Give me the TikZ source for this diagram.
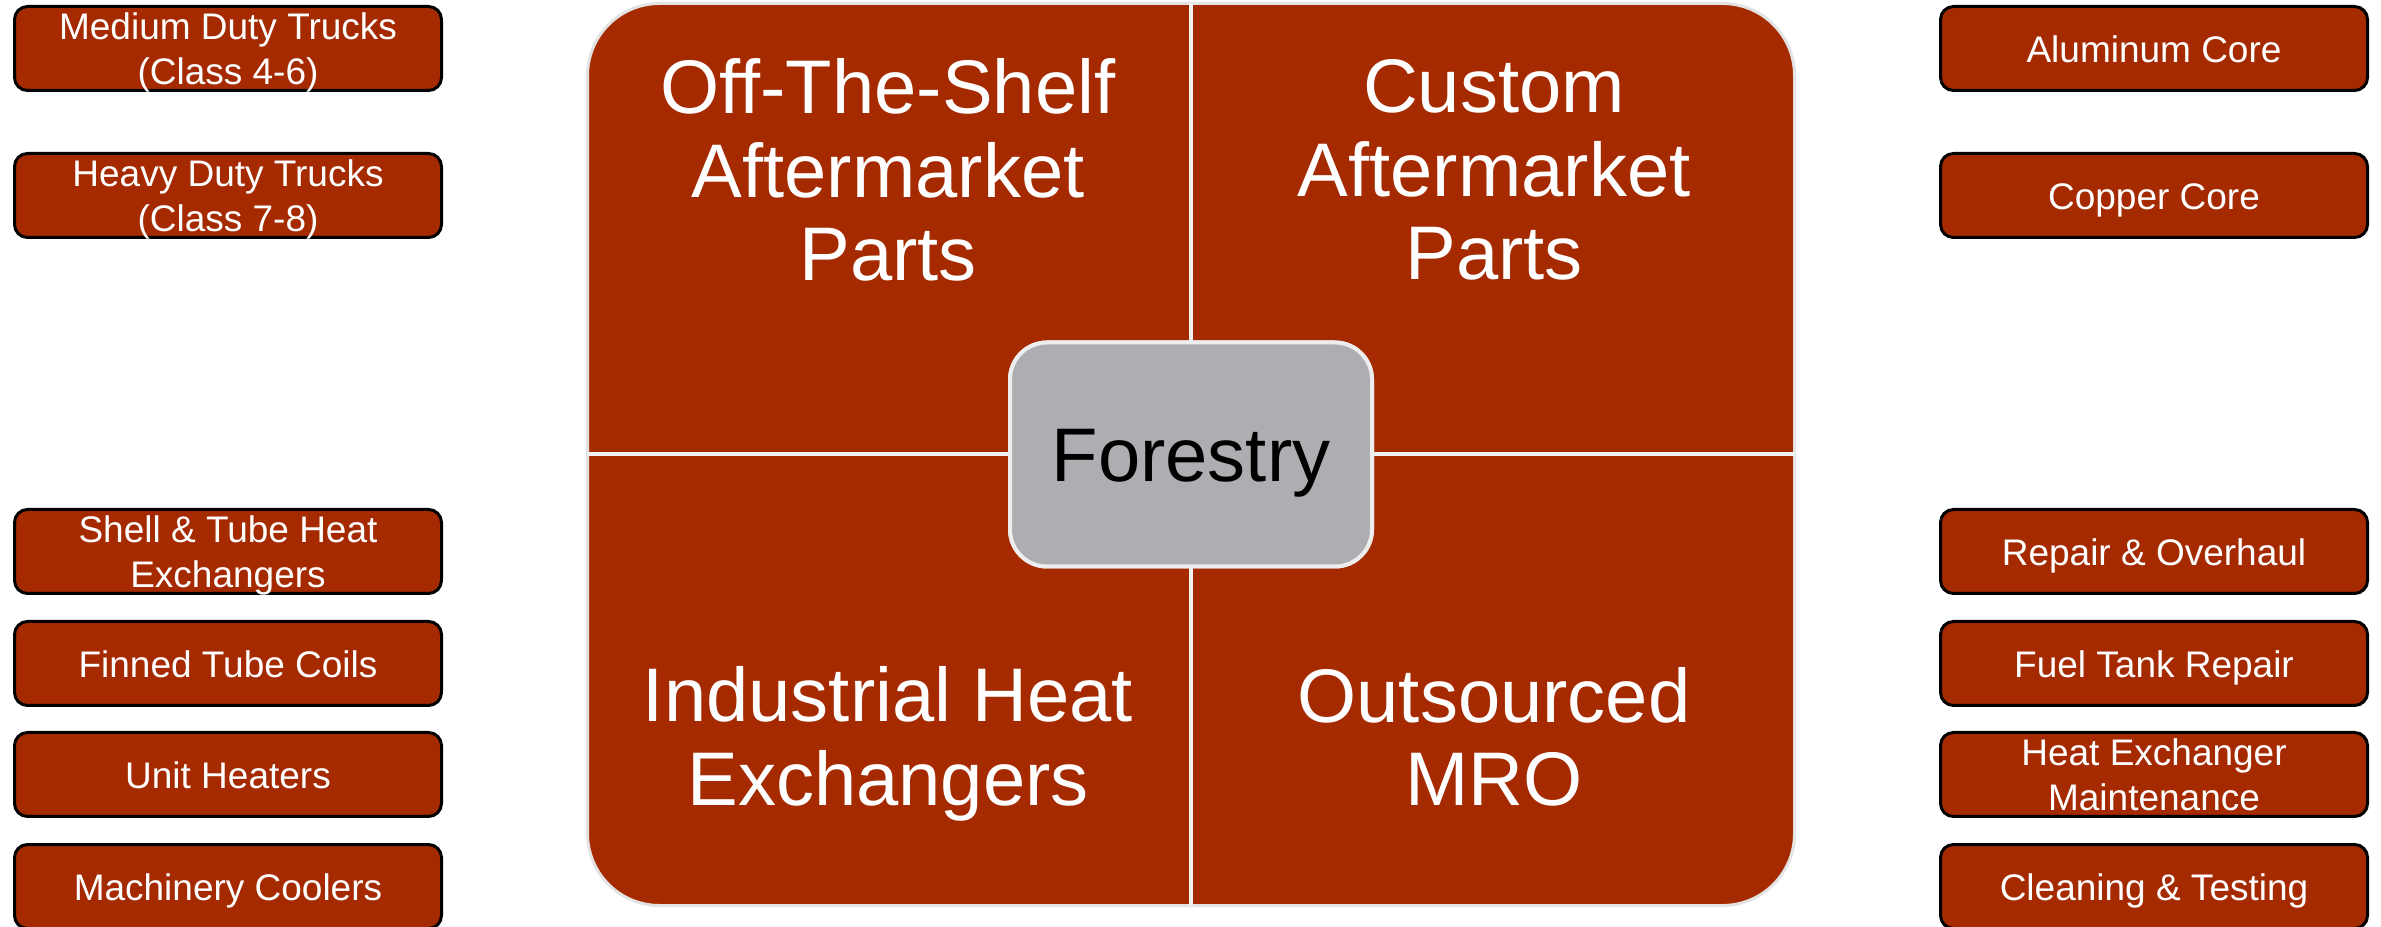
\documentclass[tikz,border=0pt]{standalone}
\usepackage{fontspec}
\setmainfont{Liberation Sans}

\definecolor{rust}{HTML}{A52A00}
\definecolor{hubgray}{HTML}{ADAEB1}
\definecolor{rim}{HTML}{E3E3E3}

\begin{document}
\begin{tikzpicture}[x=1pt, y=1pt,
  item/.style = {draw=black, line width=3pt, fill=rust, rounded corners=13pt,
    minimum width=427pt, minimum height=84pt, inner sep=0pt, outer sep=0pt,
    text=white, align=center, font=\fontsize{37}{44.5}\selectfont},
  oneline/.style = {text height=28pt, text depth=0pt},
  twoline/.style = {text depth=0pt},
  block/.style = {draw=rim, line width=3pt, fill=rust, rounded corners=72pt,
    minimum width=1207pt, minimum height=902pt, outer sep=0pt},
  hub/.style = {draw=white!93!black, line width=4pt, fill=hubgray, rounded corners=37pt,
    minimum width=362pt, minimum height=224pt, outer sep=0pt,
    font=\fontsize{76}{83.5}\selectfont, text height=54pt, text depth=0pt},
  quad/.style = {text=white, align=center, font=\fontsize{76}{83.5}\selectfont},
  divider/.style = {draw=white!95!black, line width=4pt}]

\useasboundingbox (0,0) rectangle (2381,926);

% four quadrants round the hub
\node[block] (block) at (1191,471.5) {};
\node[hub] (hub) at (1191,471.5) {};
\draw[divider] (block.north) -- (hub.north);
\draw[divider] (hub.south) -- (block.south);
\draw[divider] (block.west) -- (hub.west);
\draw[divider] (hub.east) -- (block.east);
\node[hub] at (hub) {Forestry};

\node[quad] (offshelf) at (888,756) {Off-The-Shelf\\Aftermarket\\Parts};
\node[quad] (custom) at (1494,756) {Custom\\Aftermarket\\Parts};
\node[quad] (industrial) at (888,182) {Industrial Heat\\Exchangers};
\node[quad] (mro) at (1494,189) {Outsourced\\MRO};

% left column
\node[item, twoline] (medium) at (228,877.5) {Medium Duty Trucks\\(Class 4-6)};
\node[item, twoline] (heavy) at (228,730.5) {Heavy Duty Trucks\\(Class 7-8)};
\node[item, twoline] (shell) at (228,374.5) {Shell \& Tube Heat\\Exchangers};
\node[item, oneline] (finned) at (228,262.5) {Finned Tube Coils};
\node[item, oneline] (heaters) at (228,151.5) {Unit Heaters};
\node[item, oneline] (coolers) at (228,39.5) {Machinery Coolers};

% right column
\node[item, oneline] (aluminum) at (2154,877.5) {Aluminum Core};
\node[item, oneline] (copper) at (2154,730.5) {Copper Core};
\node[item, oneline] (repair) at (2154,374.5) {Repair \& Overhaul};
\node[item, oneline] (fueltank) at (2154,262.5) {Fuel Tank Repair};
\node[item, twoline] (hxmaint) at (2154,151.5) {Heat Exchanger\\Maintenance};
\node[item, oneline] (cleaning) at (2154,39.5) {Cleaning \& Testing};

\end{tikzpicture}
\end{document}
